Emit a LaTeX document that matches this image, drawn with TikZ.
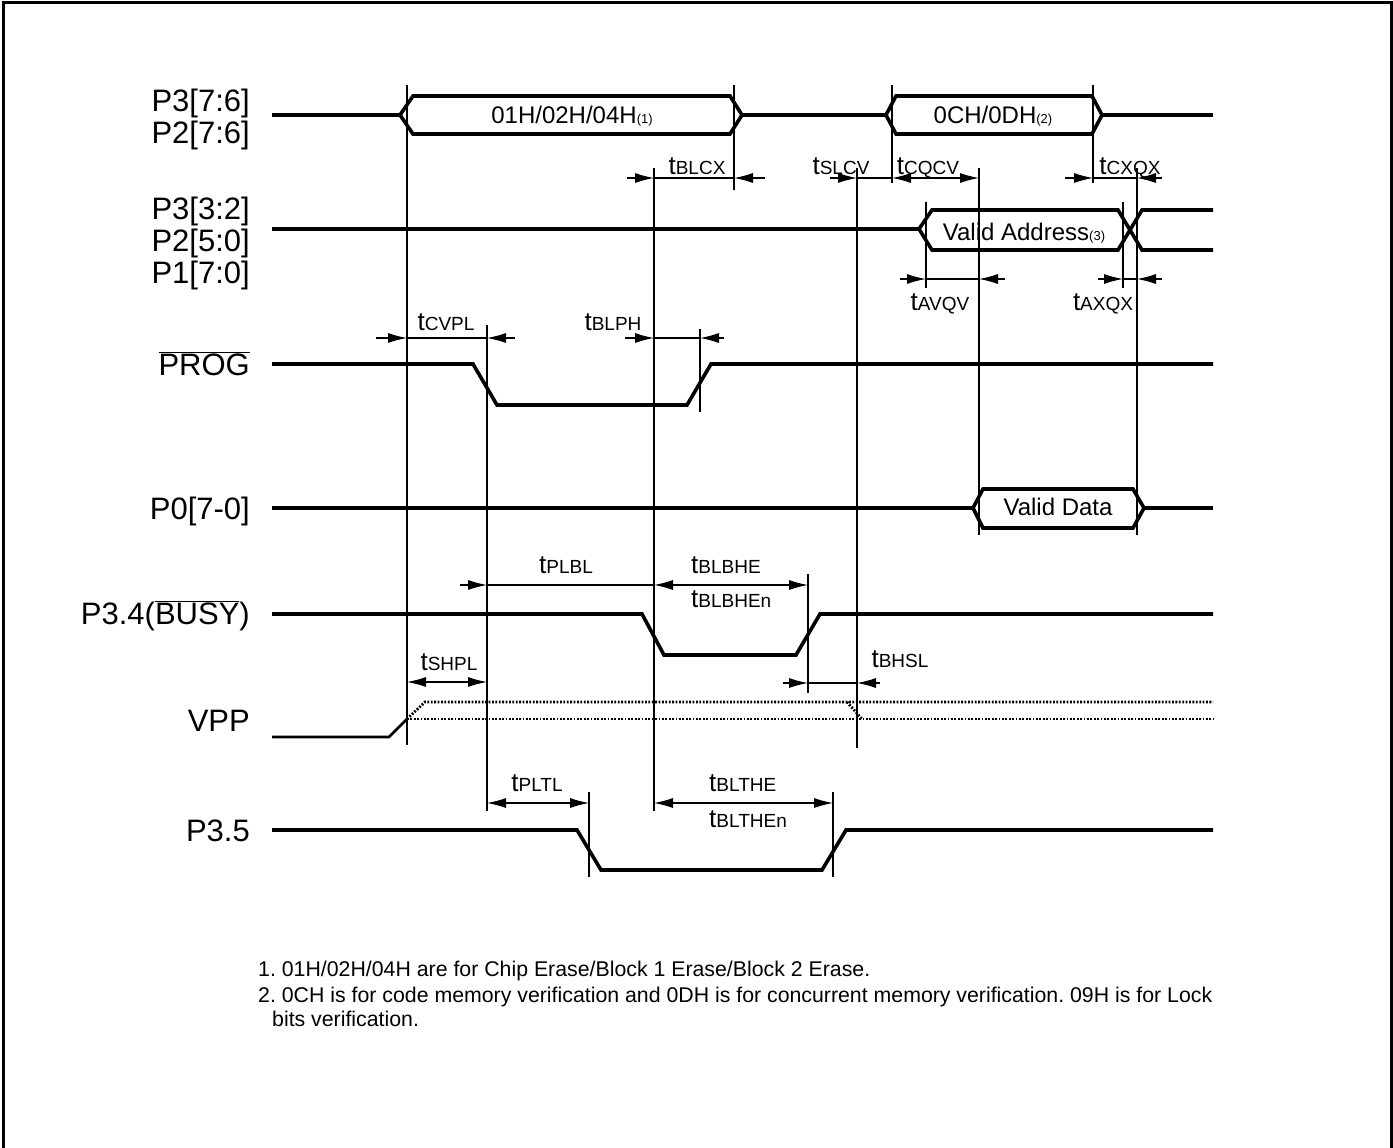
\documentclass[tikz,border=0pt]{standalone}
\usepackage{fontspec}
\setmainfont{Liberation Sans}
\usetikzlibrary{arrows.meta,positioning,calc}
\newcommand{\tm}[1]{{\fontsize{26}{26}\selectfont t}{\fontsize{19}{19}\selectfont #1}}
\newcommand{\fn}[1]{{\fontsize{13}{13}\selectfont #1}}
\frenchspacing

\begin{document}
\begin{tikzpicture}[x=1pt,y=-1pt,
  sig/.style={line width=3.6pt,line join=miter,miter limit=6},
  vdot/.style={line width=2.8pt,dash pattern=on 1.8pt off 1.6pt},
  guide/.style={line width=1.3pt},
  dline/.style={line width=1.1pt},
  arr/.style={line width=1.1pt,-{Latex[length=19pt,width=10pt]}},
  dbl/.style={line width=1.1pt,{Latex[length=19pt,width=10pt]}-{Latex[length=19pt,width=10pt]}},
  lbl/.style={font=\fontsize{31}{32}\selectfont,anchor=base east,inner sep=0pt},
  bus/.style={font=\fontsize{24}{24}\selectfont,anchor=base,inner sep=0pt},
  tlab/.style={anchor=base,inner sep=0pt},
  note/.style={font=\fontsize{21.3}{22}\selectfont,anchor=base west,inner sep=0pt}]
  \useasboundingbox (0,0) rectangle (1393,1148);
  \draw[line width=3pt] (3,1160) -- (3,3) -- (1391,3) -- (1391,1160);

  % signal names
  \node[lbl] (nCmdA) at (250,111) {P3[7:6]};
  \node[lbl] (nCmdB) at (250,143) {P2[7:6]};
  \node[lbl] (nAdrA) at (250,219) {P3[3:2]};
  \node[lbl] (nAdrB) at (250,251) {P2[5:0]};
  \node[lbl] (nAdrC) at (250,283) {P1[7:0]};
  \node[lbl] (nProg) at (250,375) {$\overline{\mbox{PROG}}$};
  \node[lbl] (nData) at (250,519) {P0[7-0]};
  \node[lbl] (nBusy) at (250,624) {P3.4($\overline{\mbox{BUSY}}$)};
  \node[lbl] (nVpp)  at (250,731) {VPP};
  \node[lbl] (nPtf)  at (250,841) {P3.5};

  % waveforms
  \draw[sig] (272,115) -- (400,115);
  \draw[sig] (400,115) -- (413,96) -- (730,96) -- (742,115) -- (730,134) -- (413,134) -- cycle;
  \draw[sig] (742,115) -- (886,115);
  \draw[sig] (886,115) -- (896,96) -- (1092,96) -- (1102,115) -- (1092,134) -- (896,134) -- cycle;
  \draw[sig] (1102,115) -- (1213,115);
  \draw[sig] (272,229) -- (919,229);
  \draw[sig] (1213,210) -- (1142,210) -- (1118,250) -- (932,250) -- (919,229) -- (932,210) -- (1118,210) -- (1142,250) -- (1213,250);
  \draw[sig] (272,364) -- (473,364) -- (497,405) -- (687,405) -- (711,364) -- (1213,364);
  \draw[sig] (272,508) -- (973,508);
  \draw[sig] (973,508) -- (983,489) -- (1133,489) -- (1144,508) -- (1133,528) -- (983,528) -- cycle;
  \draw[sig] (1144,508) -- (1213,508);
  \draw[sig] (272,614) -- (642,614) -- (664,655) -- (796,655) -- (820,614) -- (1213,614);
  \draw[sig,line width=2.6pt] (272,737) -- (389,737) -- (407,719);
  \draw[vdot] (407,719) -- (425,702) -- (1213,702);
  \draw[vdot] (407,719) -- (1213,719);
  \draw[vdot] (847,702) -- (862,719);
  \draw[sig] (272,830) -- (577,830) -- (601,870) -- (822,870) -- (846,830) -- (1213,830);

  % bus contents
  \node[bus] (dCmd) at (572,123) {01H/02H/04H\fn{(1)}};
  \node[bus] (dVer) at (993,123) {0CH/0DH\fn{(2)}};
  \node[bus] (dAdr) at (1024,240) {Valid Address\fn{(3)}};
  \node[bus] (dDat) at (1058,515) {Valid Data};

  % reference lines
  \foreach \gx/\gt/\gb in {407/85/745, 734/85/190, 892/85/183, 1093/85/183,
      857/168/748, 654/168/811, 979/168/535, 1137/168/535, 926/202/288,
      1123/202/288, 487/325/811, 700/329/412, 808/574/693, 589/792/877, 833/792/877}
    \draw[guide] (\gx,\gt) -- (\gx,\gb);

  % timing arrows
  \draw[arr] (627,178) -- (654,178); \draw[dline] (654,178) -- (734,178); \draw[arr] (765,178) -- (734,178);
  \draw[arr] (830,178) -- (857,178); \draw[dline] (857,178) -- (892,178);
  \draw[dbl] (892,178) -- (979,178);
  \draw[arr] (1065,178) -- (1093,178); \draw[dline] (1093,178) -- (1137,178); \draw[arr] (1162,178) -- (1137,178);
  \draw[arr] (900,279) -- (926,279); \draw[dline] (926,279) -- (979,279); \draw[arr] (1005,279) -- (979,279);
  \draw[arr] (1098,279) -- (1123,279); \draw[dline] (1123,279) -- (1137,279); \draw[arr] (1162,279) -- (1137,279);
  \draw[arr] (376,338) -- (407,338); \draw[dline] (407,338) -- (487,338); \draw[arr] (515,338) -- (487,338);
  \draw[arr] (625,338) -- (654,338); \draw[dline] (654,338) -- (700,338); \draw[arr] (724,338) -- (700,338);
  \draw[arr] (460,585) -- (487,585); \draw[dline] (487,585) -- (654,585);
  \draw[dbl] (654,585) -- (808,585);
  \draw[dbl] (407,682) -- (487,682);
  \draw[arr] (783,683) -- (808,683); \draw[dline] (808,683) -- (857,683); \draw[arr] (880,683) -- (857,683);
  \draw[dbl] (487,803) -- (589,803);
  \draw[dbl] (654,803) -- (833,803);

  % timing names
  \node[tlab] (tBlcx) at (697,174) {\tm{BLCX}};
  \node[tlab] (tSlcv) at (841,174) {\tm{SLCV}};
  \node[tlab] (tCqcv) at (928,174) {\tm{CQCV}};
  \node[tlab] (tCxqx) at (1130,174) {\tm{CXQX}};
  \node[tlab] (tAvqv) at (940,310) {\tm{AVQV}};
  \node[tlab] (tAxqx) at (1103,310) {\tm{AXQX}};
  \node[tlab] (tCvpl) at (446,330) {\tm{CVPL}};
  \node[tlab] (tBlph) at (613,330) {\tm{BLPH}};
  \node[tlab] (tPlbl) at (566,573) {\tm{PLBL}};
  \node[tlab,anchor=base west] (tBlbhe) at (691,573) {\tm{BLBHE}};
  \node[tlab,anchor=base west] (tBlbhen) at (691,607) {\tm{BLBHEn}};
  \node[tlab] (tShpl) at (449,670) {\tm{SHPL}};
  \node[tlab] (tBhsl) at (900,667) {\tm{BHSL}};
  \node[tlab] (tPltl) at (537,791) {\tm{PLTL}};
  \node[tlab,anchor=base west] (tBlthe) at (709,791) {\tm{BLTHE}};
  \node[tlab,anchor=base west] (tBlthen) at (709,827) {\tm{BLTHEn}};

  % notes
  \node[note] (fnA) at (258,976) {1. 01H/02H/04H are for Chip Erase/Block 1 Erase/Block 2 Erase.};
  \node[note] (fnB) at (258,1002) {2. 0CH is for code memory verification and 0DH is for concurrent memory verification. 09H is for Lock};
  \node[note] (fnC) at (272,1026) {bits verification.};
\end{tikzpicture}
\end{document}
